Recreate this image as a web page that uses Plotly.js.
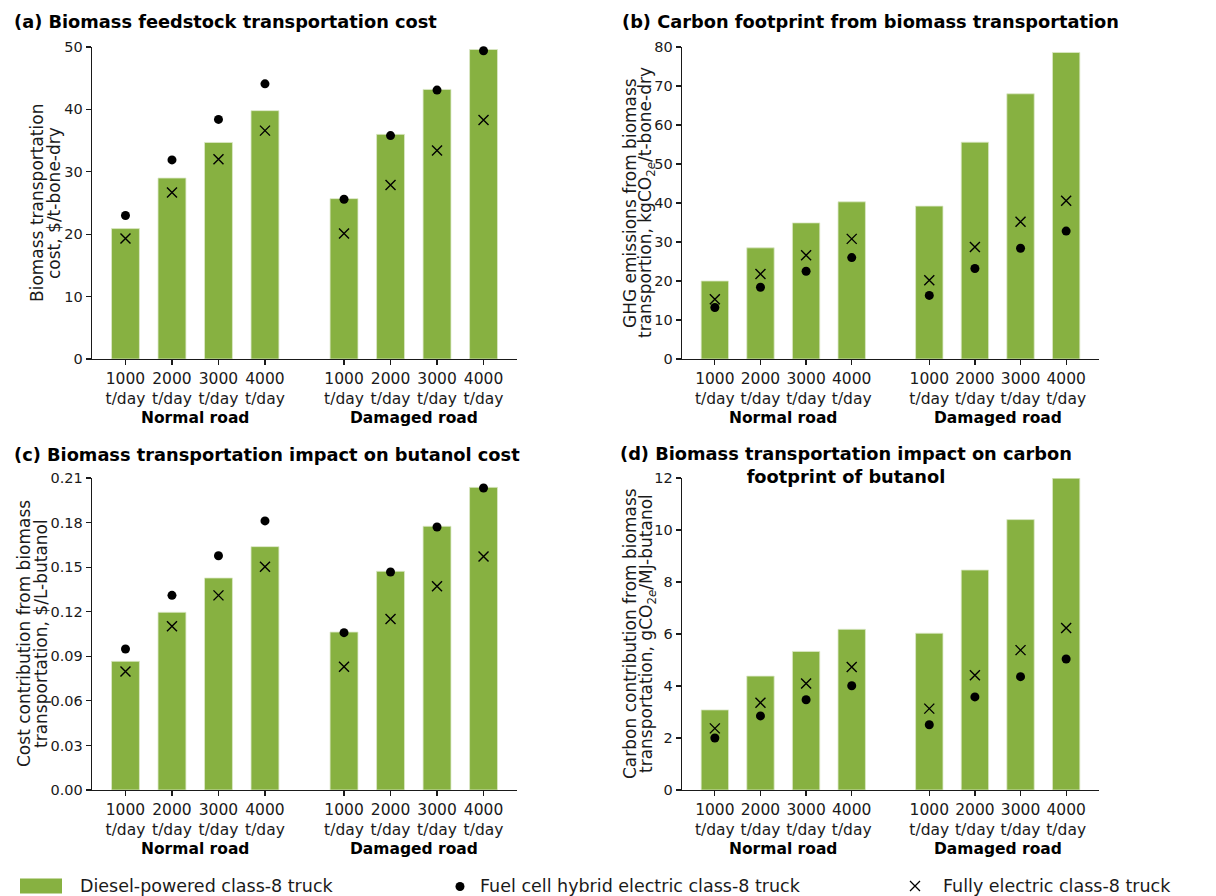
<!DOCTYPE html>
<html>
<head>
<meta charset="utf-8">
<script src="https://cdn.plot.ly/plotly-3.0.1.min.js"></script>
<style>
  html, body { margin: 0; padding: 0; background: #ffffff; }
  #chart { width: 1216px; height: 896px; }
</style>
</head>
<body>
<div id="chart"></div>
<script>
// ---------------- data ----------------
const roadTypes = ['Normal road', 'Damaged road'];
const capacities = ['1000', '2000', '3000', '4000'];
const tickLabels = roadTypes.flatMap(() => capacities.map(c => c + '<br>t/day'));

// (a) Biomass feedstock transportation cost, $/t-bone-dry
const costDiesel   = [20.9, 29.0, 34.7, 39.8, 25.7, 36.0, 43.2, 49.6];
const costFuelCell = [23.0, 31.9, 38.4, 44.1, 25.6, 35.8, 43.1, 49.4];
const costElectric = [19.3, 26.7, 32.0, 36.6, 20.1, 27.9, 33.4, 38.3];

// (b) GHG emissions from biomass transportation, kgCO2e/t-bone-dry
const ghgDiesel   = [20.0, 28.5, 34.9, 40.3, 39.2, 55.6, 68.0, 78.6];
const ghgFuelCell = [13.2, 18.4, 22.5, 26.0, 16.3, 23.2, 28.4, 32.8];
const ghgElectric = [15.3, 21.8, 26.6, 30.8, 20.2, 28.7, 35.2, 40.6];

// (c) Cost contribution to butanol, $/L-butanol
const butCostDiesel   = [0.0866, 0.1196, 0.1427, 0.1638, 0.1063, 0.1472, 0.1775, 0.2037];
const butCostFuelCell = [0.0949, 0.1310, 0.1577, 0.1811, 0.1059, 0.1467, 0.1770, 0.2033];
const butCostElectric = [0.0797, 0.1102, 0.1310, 0.1503, 0.0830, 0.1151, 0.1371, 0.1571];

// (d) Carbon contribution to butanol, gCO2e/MJ-butanol
const butCarbonDiesel   = [3.08, 4.38, 5.33, 6.18, 6.03, 8.46, 10.40, 11.99];
const butCarbonFuelCell = [2.00, 2.85, 3.47, 4.01, 2.51, 3.58, 4.36, 5.04];
const butCarbonElectric = [2.37, 3.36, 4.10, 4.73, 3.13, 4.41, 5.38, 6.23];

const seriesNames = ['Diesel-powered class-8 truck', 'Fuel cell hybrid electric class-8 truck', 'Fully electric class-8 truck'];

// ---------------- layout helpers ----------------
const W = 1216, H = 896;
const GROUP_GAP = 0.7;
const xPos = tickLabels.map((_, i) => i + (i >= capacities.length ? GROUP_GAP : 0));
const groupCenters = roadTypes.map((_, g) => (xPos[g * 4 + 1] + xPos[g * 4 + 2]) / 2);

const GREEN = '#87b141';
const INK = '#1a1a1a';
const FONT = 'DejaVu Sans, Verdana, sans-serif';

const panels = [
  { diesel: costDiesel, fc: costFuelCell, el: costElectric, yr: [0, 50], dtick: 10, fmt: '',
    px: [92, 517], py: [47, 359],
    title: '(a) Biomass feedstock transportation cost', tx: 12, ty: 21, tanchor: 'left',
    ytitle: ['Biomass transportation', 'cost, $/t-bone-dry'], ytx: [37, 54] },
  { diesel: ghgDiesel, fc: ghgFuelCell, el: ghgElectric, yr: [0, 80], dtick: 10, fmt: '',
    px: [682, 1099], py: [47, 359],
    title: '(b) Carbon footprint from biomass transportation', tx: 620, ty: 21, tanchor: 'left',
    ytitle: ['GHG emissions from biomass', 'transportion, kgCO<sub>2<i>e</i></sub>/t-bone-dry'], ytx: [630, 646] },
  { diesel: butCostDiesel, fc: butCostFuelCell, el: butCostElectric, yr: [0, 0.21], dtick: 0.03, fmt: '.2f',
    px: [92, 517], py: [478, 790],
    title: '(c) Biomass transportation impact on butanol cost', tx: 12, ty: 454, tanchor: 'left',
    ytitle: ['Cost contribution from biomass', 'transportation, $/L-butanol'], ytx: [24, 41] },
  { diesel: butCarbonDiesel, fc: butCarbonFuelCell, el: butCarbonElectric, yr: [0, 12], dtick: 2, fmt: '',
    px: [682, 1099], py: [478, 790],
    title: '(d) Biomass transportation impact on carbon<br>footprint of butanol', tx: 846, ty: 465, tanchor: 'center',
    ytitle: ['Carbon contribution from biomass', 'transportation, gCO<sub>2<i>e</i></sub>/MJ-butanol'], ytx: [630, 647] }
];

const traces = [];
const layout = {
  width: W, height: H, autosize: false,
  margin: { l: 0, r: 0, t: 0, b: 0 },
  paper_bgcolor: '#ffffff', plot_bgcolor: 'rgba(0,0,0,0)',
  font: { family: FONT, color: INK, size: 16 },
  showlegend: false,
  bargap: 0,
  annotations: [], shapes: []
};

panels.forEach((p, k) => {
  const n = k + 1;
  const xa = 'x' + (n === 1 ? '' : n), ya = 'y' + (n === 1 ? '' : n);
  traces.push({
    type: 'bar', x: xPos, y: p.diesel, width: 0.6, name: seriesNames[0],
    xaxis: xa, yaxis: ya,
    marker: { color: GREEN, line: { color: '#dce9c8', width: 0.8 } },
    hoverinfo: 'y'
  });
  traces.push({
    type: 'scatter', mode: 'markers', x: xPos, y: p.fc, name: seriesNames[1],
    xaxis: xa, yaxis: ya, cliponaxis: false,
    marker: { symbol: 'circle', color: '#000000', size: 9 }
  });
  traces.push({
    type: 'scatter', mode: 'markers', x: xPos, y: p.el, name: seriesNames[2],
    xaxis: xa, yaxis: ya, cliponaxis: false,
    marker: { symbol: 'x-thin-open', size: 10, color: '#000000', line: { color: '#000000', width: 1.4 } }
  });

  const xd = [p.px[0] / W, p.px[1] / W];
  const yd = [1 - p.py[1] / H, 1 - p.py[0] / H];
  layout['xaxis' + (n === 1 ? '' : n)] = {
    domain: xd, anchor: ya, range: [-0.72, 8.42],
    tickmode: 'array', tickvals: xPos, ticktext: tickLabels,
    showline: true, linecolor: INK, linewidth: 1.3,
    ticks: 'outside', ticklen: 5, tickwidth: 1.2, tickcolor: INK,
    showgrid: false, zeroline: false, fixedrange: true,
    tickfont: { family: FONT, size: 15.5, color: INK }
  };
  layout['yaxis' + (n === 1 ? '' : n)] = {
    domain: yd, anchor: xa, range: p.yr,
    tickmode: 'linear', tick0: 0, dtick: p.dtick, tickformat: p.fmt,
    showline: true, linecolor: INK, linewidth: 1.3,
    ticks: 'outside', ticklen: 5, tickwidth: 1.2, tickcolor: INK,
    showgrid: false, zeroline: false, fixedrange: true,
    tickfont: { family: FONT, size: 14.5, color: INK }
  };

  // panel title
  layout.annotations.push({
    xref: 'paper', yref: 'paper', x: p.tx / W, y: 1 - p.ty / H,
    xanchor: p.tanchor, yanchor: 'middle', align: 'center', showarrow: false,
    text: '<b>' + p.title + '</b>',
    font: { family: FONT, size: 17.8, color: '#000000' }
  });
  // y-axis title (two lines, placed individually)
  p.ytitle.forEach((line, j) => {
    layout.annotations.push({
      xref: 'paper', yref: 'paper', x: p.ytx[j] / W, y: 1 - (p.py[0] + p.py[1]) / 2 / H,
      xanchor: 'center', yanchor: 'middle', textangle: -90, showarrow: false,
      text: line,
      font: { family: FONT, size: 17, color: INK }
    });
  });
  // group labels
  roadTypes.forEach((r, g) => {
    layout.annotations.push({
      xref: xa, yref: 'paper', x: groupCenters[g], y: 1 - (p.py[1] + 59) / H,
      xanchor: 'center', yanchor: 'middle', showarrow: false,
      text: '<b>' + r + '</b>',
      font: { family: FONT, size: 15.5, color: '#000000' }
    });
  });
});

// ---------------- legend (drawn as layout decorations) ----------------
const legY = 886;
layout.shapes.push({
  type: 'rect', xref: 'paper', yref: 'paper',
  x0: 20 / W, x1: 62 / W, y0: 1 - (legY + 7.5) / H, y1: 1 - (legY - 7.5) / H,
  fillcolor: GREEN, line: { width: 0 }
});
layout.shapes.push({
  type: 'circle', xref: 'paper', yref: 'paper',
  x0: (460 - 4.5) / W, x1: (460 + 4.5) / W, y0: 1 - (legY + 5) / H, y1: 1 - (legY - 4) / H,
  fillcolor: '#000000', line: { width: 0 }
});
const xs = 915, xr = 5;
layout.shapes.push({
  type: 'path', xref: 'paper', yref: 'paper',
  path: `M ${(xs - xr) / W} ${1 - (legY - xr) / H} L ${(xs + xr) / W} ${1 - (legY + xr) / H} M ${(xs - xr) / W} ${1 - (legY + xr) / H} L ${(xs + xr) / W} ${1 - (legY - xr) / H}`,
  line: { color: '#000000', width: 1.3 }
});
[[78, seriesNames[0]], [478, seriesNames[1]], [941, seriesNames[2]]].forEach(([lx, t]) => {
  layout.annotations.push({
    xref: 'paper', yref: 'paper', x: lx / W, y: 1 - legY / H,
    xanchor: 'left', yanchor: 'middle', showarrow: false, text: t,
    font: { family: FONT, size: 17.5, color: INK }
  });
});

Plotly.newPlot('chart', traces, layout, { displayModeBar: false, staticPlot: true });
</script>
</body>
</html>
